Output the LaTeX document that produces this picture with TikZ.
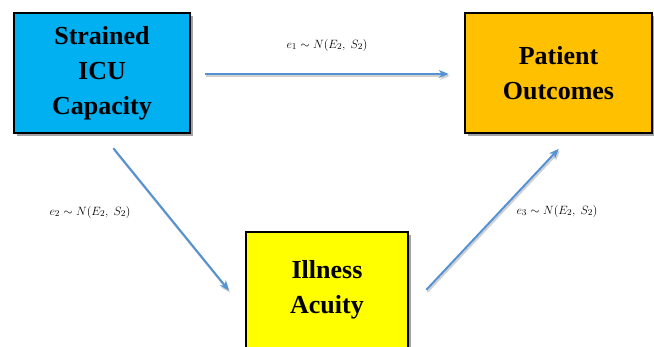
\documentclass[tikz,border=0pt]{standalone}
\usepackage{fontspec}
\setmainfont{Liberation Serif}
\usepackage{tikz}
\usetikzlibrary{arrows.meta,shadows}
\definecolor{capblue}{RGB}{0,176,240}
\definecolor{outgold}{RGB}{255,192,0}
\definecolor{acuyellow}{RGB}{255,255,0}
\definecolor{arrblue}{RGB}{84,146,212}
\tikzset{
	varbox/.style={draw=black, line width=2.5pt, align=center, font=\bfseries\fontsize{26}{35}\selectfont,
		inner sep=0pt, minimum height=120pt,
		drop shadow={shadow xshift=3pt, shadow yshift=-3pt, fill=black!45, opacity=0.8}},
	path/.style={draw=arrblue, line width=2pt, -{Stealth[length=10pt,width=8pt]},
		preaction={draw=black!18, line width=2pt, transform canvas={shift={(1pt,-2pt)}}}},
	errlab/.style={font=\fontsize{12.5}{14}\selectfont}
}
\begin{document}
\begin{tikzpicture}[x=1pt, y=-1pt]
		%%%%% START %%%%%
		\useasboundingbox (0, 0) rectangle (654, 346);
		
		\node[varbox, fill=capblue, minimum width=176pt] (cap) at (102, 73) {Strained\\ICU\\Capacity};
		\node[varbox, fill=outgold, minimum width=187pt] (out) at (558.5, 73) {Patient\\Outcomes};
		\node[varbox, fill=acuyellow, minimum width=162pt, minimum height=116pt] (acu) at (327, 290) {Illness\\Acuity};
		
		\draw[path, shorten <=14pt, shorten >=15pt] ([yshift=-1pt]cap.east) -- ([yshift=-1pt]out.west);
		\draw[path, shorten <=18pt, shorten >=25pt] (cap.south) -- ([yshift=-20pt]acu.west);
		\draw[path, shorten <=25pt, shorten >=20pt] ([yshift=-18pt]acu.east) -- ([xshift=14pt]out.south);
		
		\node[errlab] (e1) at (327, 45) {$e_1 \sim N(E_2,\ S_2)$};
		\node[errlab] (e2) at (90, 212) {$e_2 \sim N(E_2,\ S_2)$};
		\node[errlab] (e3) at (557, 211) {$e_3 \sim N(E_2,\ S_2)$};
		%%%%% END %%%%%
\end{tikzpicture}
\end{document}
